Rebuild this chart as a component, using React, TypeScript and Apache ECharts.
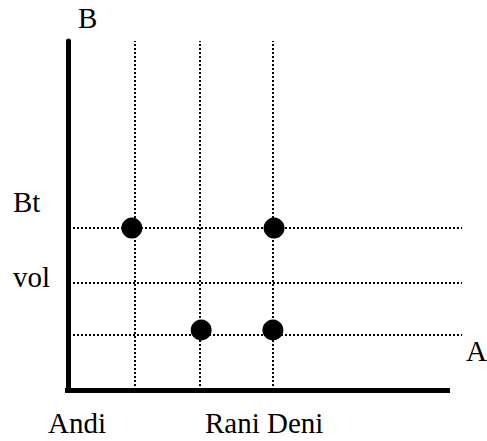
import React, { useEffect, useRef } from "react";
import * as echarts from "echarts";

// Grid reference lines (axis units: x -2..100, y 0..100)
const verticalLines = [17.0, 33.5, 52.0];
const horizontalLines = [46.4, 30.7, 15.8];
// Plotted points [x, y]
const points: [number, number][] = [
  [16.2, 46.4],
  [52.3, 46.4],
  [33.8, 17.2],
  [52.0, 17.2],
];
// Axis line extent
const xAxisStart = -0.76;
const xAxisEnd = 96.95;
const hLineStart = 1.27;

// Texts
const yAxisTitle = "B";
const xAxisTitle = "A";
const yLabels = ["Bt", "vol"];
const xLabels = ["Andi", "Rani Deni"];

const FONT_SIZE = 29;

export default function App() {
  const ref = useRef<HTMLDivElement>(null);
  useEffect(() => {
    if (!ref.current) return;
    const chart = echarts.init(ref.current, null, { renderer: "svg" });
    const txt = (text: string, x: number, baseline: number) => ({
      type: "text",
      left: x,
      top: Math.round(baseline - FONT_SIZE * 0.891),
      z: 10,
      style: {
        text,
        fontFamily: "Liberation Serif",
        fontSize: FONT_SIZE,
        fill: "#000",
      },
    });
    chart.setOption({
      animation: false,
      grid: { left: 60.12, right: 25, top: 41, bottom: 51 },
      xAxis: {
        type: "value",
        min: -2,
        max: 100,
        axisLine: { show: false },
        axisTick: { show: false },
        axisLabel: { show: false },
        splitLine: { show: false },
      },
      yAxis: {
        type: "value",
        min: 0,
        max: 100,
        axisLine: { show: true, onZero: true, lineStyle: { color: "#000", width: 5 } },
        axisTick: { show: false },
        axisLabel: { show: false },
        splitLine: { show: false },
      },
      series: [
        {
          type: "scatter",
          data: [],
          silent: true,
          markLine: {
            silent: true,
            symbol: "none",
            label: { show: false },
            lineStyle: { color: "#000", width: 2, type: [2, 2] },
            data: [
              ...verticalLines.map((x) => [{ coord: [x, 0] }, { coord: [x, 100] }]),
              ...horizontalLines.map((y) => [{ coord: [hLineStart, y] }, { coord: [100, y] }]),
            ],
          },
        },
        {
          type: "scatter",
          data: [],
          silent: true,
          markLine: {
            silent: true,
            symbol: "none",
            label: { show: false },
            lineStyle: { color: "#000", width: 5, type: "solid" },
            data: [[{ coord: [xAxisStart, 0] }, { coord: [xAxisEnd, 0] }]],
          },
        },
        {
          type: "scatter",
          z: 5,
          symbol: "circle",
          symbolSize: 21,
          itemStyle: { color: "#000", opacity: 1 },
          data: points,
        },
      ],
      graphic: [
        txt(yAxisTitle, 78, 29),
        txt(yLabels[0], 13, 213),
        txt(yLabels[1], 13, 288),
        txt(xAxisTitle, 466, 362),
        txt(xLabels[0], 48, 434),
        txt(xLabels[1], 205, 434),
      ],
    });
    return () => chart.dispose();
  }, []);
  return (
    <div
      ref={ref}
      style={{ position: "absolute", left: 0, top: 0, width: 487, height: 441 }}
    />
  );
}
